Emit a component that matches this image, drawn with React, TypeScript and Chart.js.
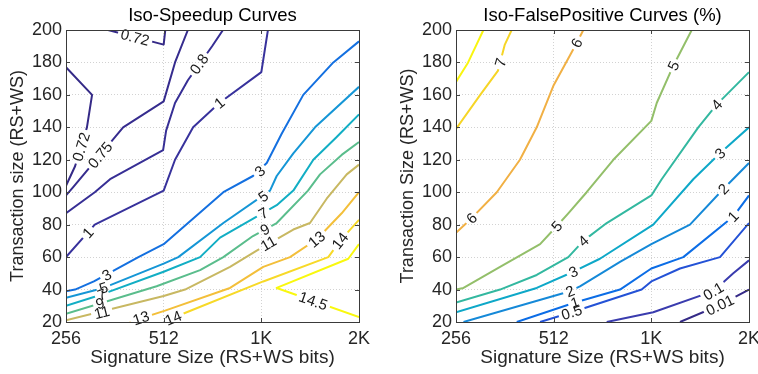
import React, { useEffect, useRef } from "react";
import { Chart, registerables } from "chart.js";

Chart.register(...registerables);

const FONT = "'Liberation Sans', Arial, Helvetica, sans-serif";

// ---- axes ----
const signatureTicks = [256, 512, 1024, 2048];
const signatureTickLabels = ["256", "512", "1K", "2K"];
const transactionTicks = [20, 40, 60, 80, 100, 120, 140, 160, 180, 200];

type XY = [number, number];
type ContourLabel = [string, number, number];

// ---- Iso-speedup contours: [signature bits, transaction size] ----
const speedup072Top: XY[] = [[345, 200], [512, 191], [518, 200]];
const speedup072Left: XY[] = [[256, 177], [308, 160], [297, 140], [273, 116], [256, 104]];
const speedup075: XY[] = [[608, 200], [555, 180], [512, 156], [384, 140], [269, 103], [256, 98]];
const speedup08: XY[] = [[780, 200], [722, 190], [608, 169], [555, 155], [521, 138], [510, 126], [350, 108], [314, 100], [256, 87]];
const speedup1: XY[] = [[1073, 200], [1024, 174], [760, 155], [631, 140], [555, 120], [512, 101], [314, 80], [256, 60]];
const speedup3: XY[] = [[2048, 193], [1707, 180], [1379, 160], [1183, 136], [1064, 118], [965, 110], [782, 100], [512, 68], [428, 60], [312, 45], [273, 40], [256, 39]];
const speedup5: XY[] = [[2048, 165], [1499, 140], [1285, 124], [1142, 110], [1089, 101], [782, 81], [568, 60], [512, 56], [334, 41], [256, 35]];
const speedup7: XY[] = [[2048, 148], [1748, 134], [1481, 120], [1285, 101], [1142, 92], [764, 72], [663, 60], [512, 51], [330, 37], [256, 30]];
const speedup9: XY[] = [[2048, 131], [1811, 123], [1553, 111], [1426, 101], [1142, 81], [965, 73], [782, 60], [663, 52], [487, 42], [256, 25]];
const speedup11: XY[] = [[2048, 117], [1877, 111], [1628, 96], [1446, 81], [1285, 77], [991, 64], [820, 54], [596, 40], [512, 36], [256, 21]];
const speedup13: XY[] = [[2048, 100], [1811, 87], [1517, 71], [1255, 60], [1038, 54], [820, 41], [517, 27], [403, 20]];
const speedup14: XY[] = [[2048, 83], [1790, 70], [1647, 60], [1038, 45], [603, 26], [512, 20]];
const speedup145: XY[] = [[2048, 68], [1898, 59], [1142, 41], [2048, 23]];

const speedupLabels: ContourLabel[] = [
  ["0.72", 418, 195.5], ["0.72", 285, 128], ["0.75", 326, 123], ["0.8", 658, 179],
  ["1", 760, 155], ["1", 299, 75], ["3", 1014, 113], ["3", 342, 49],
  ["5", 1038, 97.5], ["5", 334, 41], ["7", 1038, 87], ["7", 330, 37],
  ["9", 1051, 77], ["9", 326, 31.5], ["11", 1076, 68.5], ["11", 330, 26],
  ["13", 1517, 71], ["13", 436, 22.5], ["14", 1790, 70], ["14", 548, 22.5],
  ["14.5", 1481, 33],
];

// ---- Iso-false-positive contours (%) ----
const fp75: XY[] = [[311, 200], [279, 180], [256, 168]];
const fp7: XY[] = [[380, 200], [362, 191], [345, 175], [304, 160], [256, 139]];
const fp6: XY[] = [[632, 200], [603, 192], [512, 166], [454, 140], [403, 120], [342, 100], [286, 84], [256, 75]];
const fp5: XY[] = [[1364, 200], [1197, 178], [1064, 155], [1024, 144], [782, 120], [647, 100], [568, 87], [523, 79], [465, 68], [350, 54], [270, 41], [256, 40]];
const fp4: XY[] = [[2048, 174], [1628, 154], [1429, 140], [1102, 108], [1024, 98], [746, 81], [632, 70], [568, 60], [454, 49], [350, 40], [256, 32]];
const fp3: XY[] = [[2048, 140], [1667, 124], [1379, 108], [1038, 80], [711, 59], [589, 51], [454, 41], [256, 26]];
const fp2: XY[] = [[2048, 118], [1707, 102], [1347, 80], [1024, 68], [820, 57], [617, 42], [575, 39], [270, 20]];
const fp1: XY[] = [[2048, 98], [1832, 85], [1285, 60], [1024, 53], [820, 40], [596, 32], [394, 20]];
const fp05: XY[] = [[2048, 81], [1667, 60], [1255, 53], [1024, 45], [956, 40], [582, 26], [465, 20]];
const fp01: XY[] = [[2048, 58], [1832, 50], [1590, 39], [1038, 26], [746, 20]];
const fp001: XY[] = [[2048, 40], [1667, 30.5], [1255, 20]];

const fpLabels: ContourLabel[] = [
  ["7", 351, 180], ["6", 603, 192], ["6", 286, 84], ["5", 1197, 178], ["5", 523, 79],
  ["4", 1628, 154], ["4", 632, 70], ["3", 1667, 124], ["3", 589, 51],
  ["2", 1707, 102], ["2", 575, 39], ["1", 1832, 85], ["1", 596, 32],
  ["0.5", 582, 26], ["0.1", 1590, 39], ["0.01", 1667, 30.5],
];

type Curve = { level: string; color: string; values: XY[] };

const speedupCurves: Curve[] = [
  { level: "0.72", color: "#352a87", values: speedup072Top },
  { level: "0.72", color: "#352a87", values: speedup072Left },
  { level: "0.75", color: "#362c8e", values: speedup075 },
  { level: "0.8", color: "#372f95", values: speedup08 },
  { level: "1", color: "#38329c", values: speedup1 },
  { level: "3", color: "#1470e0", values: speedup3 },
  { level: "5", color: "#1596d6", values: speedup5 },
  { level: "7", color: "#12aec4", values: speedup7 },
  { level: "9", color: "#5abd8c", values: speedup9 },
  { level: "11", color: "#c8b862", values: speedup11 },
  { level: "13", color: "#f3bf3a", values: speedup13 },
  { level: "14", color: "#f7d928", values: speedup14 },
  { level: "14.5", color: "#f9f80e", values: speedup145 },
];

const fpCurves: Curve[] = [
  { level: "0.01", color: "#352a87", values: fp001 },
  { level: "0.1", color: "#3a3cae", values: fp01 },
  { level: "0.5", color: "#2452d6", values: fp05 },
  { level: "1", color: "#0c6de6", values: fp1 },
  { level: "2", color: "#1589d8", values: fp2 },
  { level: "3", color: "#0ea8c8", values: fp3 },
  { level: "4", color: "#33b8a0", values: fp4 },
  { level: "5", color: "#93bf6a", values: fp5 },
  { level: "6", color: "#f1b044", values: fp6 },
  { level: "7", color: "#f6d526", values: fp7 },
  { level: "7.5", color: "#f9f50f", values: fp75 },
];

type Placed = { text: string; cx: number; cy: number; angle: number; w: number };

function pointAt(pts: number[][], cum: number[], s: number): number[] {
  const total = cum[cum.length - 1];
  const t = Math.max(0, Math.min(total, s));
  for (let i = 1; i < pts.length; i++) {
    if (cum[i] >= t) {
      const seg = cum[i] - cum[i - 1] || 1;
      const f = (t - cum[i - 1]) / seg;
      return [pts[i - 1][0] + f * (pts[i][0] - pts[i - 1][0]), pts[i - 1][1] + f * (pts[i][1] - pts[i - 1][1])];
    }
  }
  return pts[pts.length - 1];
}

function placeLabels(chart: any, labels: ContourLabel[], size: number): Placed[] {
  const xs = chart.scales.x;
  const ys = chart.scales.y;
  const ctx = chart.ctx as CanvasRenderingContext2D;
  ctx.save();
  ctx.font = `${size}px ${FONT}`;
  const out: Placed[] = [];
  for (const [text, vx, vy] of labels) {
    const cx = xs.getPixelForValue(vx);
    const cy = ys.getPixelForValue(vy);
    let bestD = Infinity;
    let angle = 0;
    chart.data.datasets.forEach((ds: any) => {
      if (ds.label !== text) return;
      const pts = ds.data.map((p: any) => [xs.getPixelForValue(p.x), ys.getPixelForValue(p.y)]);
      const cum = [0];
      for (let i = 1; i < pts.length; i++) {
        cum.push(cum[i - 1] + Math.hypot(pts[i][0] - pts[i - 1][0], pts[i][1] - pts[i - 1][1]));
      }
      for (let i = 1; i < pts.length; i++) {
        const ax = pts[i - 1][0], ay = pts[i - 1][1];
        const bx = pts[i][0], by = pts[i][1];
        const dx = bx - ax, dy = by - ay;
        const len2 = dx * dx + dy * dy || 1;
        const f = Math.max(0, Math.min(1, ((cx - ax) * dx + (cy - ay) * dy) / len2));
        const px = ax + f * dx, py = ay + f * dy;
        const d = Math.hypot(cx - px, cy - py);
        if (d < bestD) {
          bestD = d;
          const s = cum[i - 1] + f * Math.sqrt(len2);
          const p0 = pointAt(pts, cum, s - 10);
          const p1 = pointAt(pts, cum, s + 10);
          angle = Math.atan2(p1[1] - p0[1], p1[0] - p0[0]);
        }
      }
    });
    if (angle > Math.PI / 2) angle -= Math.PI;
    if (angle < -Math.PI / 2) angle += Math.PI;
    out.push({ text, cx, cy, angle, w: ctx.measureText(text).width });
  }
  ctx.restore();
  return out;
}

function makePlugin(title: string, labels: ContourLabel[]) {
  const labelSize = 15;
  let placed: Placed[] = [];
  return {
    id: "contourDecor",
    beforeDatasetsDraw(chart: any) {
      placed = placeLabels(chart, labels, labelSize);
    },
    beforeDatasetDraw(chart: any, args: any) {
      const ctx = chart.ctx as CanvasRenderingContext2D;
      const level = chart.data.datasets[args.index].label;
      ctx.save();
      ctx.beginPath();
      ctx.rect(0, 0, chart.width, chart.height);
      for (const p of placed) {
        if (p.text !== level) continue;
        const ux = Math.cos(p.angle), uy = Math.sin(p.angle);
        const vx = -uy, vy = ux;
        const hw = p.w / 2 + 3, hh = 8;
        ctx.moveTo(p.cx - ux * hw - vx * hh, p.cy - uy * hw - vy * hh);
        ctx.lineTo(p.cx - ux * hw + vx * hh, p.cy - uy * hw + vy * hh);
        ctx.lineTo(p.cx + ux * hw + vx * hh, p.cy + uy * hw + vy * hh);
        ctx.lineTo(p.cx + ux * hw - vx * hh, p.cy + uy * hw - vy * hh);
        ctx.closePath();
      }
      ctx.clip("evenodd");
    },
    afterDatasetDraw(chart: any) {
      chart.ctx.restore();
    },
    afterDatasetsDraw(chart: any) {
      const ctx = chart.ctx as CanvasRenderingContext2D;
      ctx.save();
      ctx.font = `${labelSize}px ${FONT}`;
      ctx.fillStyle = "#1a1a1a";
      ctx.textAlign = "center";
      ctx.textBaseline = "middle";
      for (const p of placed) {
        ctx.save();
        ctx.translate(p.cx, p.cy);
        ctx.rotate(p.angle);
        ctx.fillText(p.text, 0, 1);
        ctx.restore();
      }
      ctx.restore();
    },
    afterDraw(chart: any) {
      const ctx = chart.ctx as CanvasRenderingContext2D;
      const a = chart.chartArea;
      const xs = chart.scales.x;
      const ys = chart.scales.y;
      ctx.save();
      // inward tick marks on all four sides
      ctx.strokeStyle = "#444";
      ctx.lineWidth = 1;
      ctx.beginPath();
      for (const v of signatureTicks) {
        const x = Math.round(xs.getPixelForValue(v)) + 0.5;
        ctx.moveTo(x, a.bottom);
        ctx.lineTo(x, a.bottom - 4);
        ctx.moveTo(x, a.top);
        ctx.lineTo(x, a.top + 4);
      }
      for (const v of transactionTicks) {
        const y = Math.round(ys.getPixelForValue(v)) + 0.5;
        ctx.moveTo(a.left, y);
        ctx.lineTo(a.left + 4, y);
        ctx.moveTo(a.right, y);
        ctx.lineTo(a.right - 4, y);
      }
      ctx.stroke();
      // axes box
      ctx.strokeStyle = "#3a3a3a";
      ctx.strokeRect(Math.round(a.left) + 0.5, Math.round(a.top) + 0.5, Math.round(a.right - a.left), Math.round(a.bottom - a.top));
      // title
      ctx.fillStyle = "#000";
      ctx.font = `18.5px ${FONT}`;
      ctx.textAlign = "center";
      ctx.textBaseline = "middle";
      ctx.fillText(title, (a.left + a.right) / 2, 16);
      ctx.restore();
    },
  };
}

type PanelProps = {
  left: number;
  title: string;
  yTitle: string;
  curves: Curve[];
  labels: ContourLabel[];
  yAxisWidth: number;
  rightPad: number;
  yTitlePad: number;
};

function ContourPanel({ left, title, yTitle, curves, labels, yAxisWidth, rightPad, yTitlePad }: PanelProps) {
  const ref = useRef<HTMLCanvasElement>(null);
  useEffect(() => {
    if (!ref.current) return;
    const chart = new Chart(ref.current, {
      type: "scatter",
      data: {
        datasets: curves.map((c) => ({
          label: c.level,
          data: c.values.map(([x, y]) => ({ x, y })),
          showLine: true,
          borderColor: c.color,
          backgroundColor: c.color,
          borderWidth: 2,
          pointRadius: 0,
          pointHoverRadius: 0,
          tension: 0,
          fill: false,
          borderJoinStyle: "round",
          borderCapStyle: "butt",
        })),
      },
      options: {
        responsive: false,
        animation: false,
        devicePixelRatio: 1,
        events: [],
        layout: { padding: { left: 0, top: 30, right: rightPad, bottom: 0 } },
        plugins: { legend: { display: false }, tooltip: { enabled: false }, title: { display: false } },
        scales: {
          x: {
            type: "logarithmic",
            min: 256,
            max: 2048,
            afterBuildTicks: (s: any) => {
              s.ticks = signatureTicks.map((v) => ({ value: v }));
            },
            afterFit: (s: any) => {
              s.height = 52;
              s.paddingLeft = 0;
              s.paddingRight = 0;
            },
            ticks: {
              autoSkip: false,
              maxRotation: 0,
              padding: 6,
              color: "#262626",
              font: { family: FONT, size: 18 },
              callback: (v: any) => signatureTickLabels[signatureTicks.indexOf(Number(v))] ?? "",
            },
            grid: { color: "#d2d2d2", lineWidth: 1, drawTicks: false },
            border: { display: false, dash: [1, 2] },
            title: {
              display: true,
              text: "Signature Size (RS+WS bits)",
              color: "#262626",
              font: { family: FONT, size: 19 },
              padding: { top: 0, bottom: 5 },
            },
          },
          y: {
            type: "linear",
            min: 20,
            max: 200,
            afterBuildTicks: (s: any) => {
              s.ticks = transactionTicks.map((v) => ({ value: v }));
            },
            afterFit: (s: any) => {
              s.width = yAxisWidth;
            },
            ticks: {
              padding: 4,
              color: "#262626",
              font: { family: FONT, size: 18 },
            },
            grid: { color: "#d2d2d2", lineWidth: 1, drawTicks: false },
            border: { display: false, dash: [1, 2] },
            title: {
              display: true,
              text: yTitle,
              color: "#262626",
              font: { family: FONT, size: 18 },
              padding: { top: yTitlePad, bottom: 0 },
            },
          },
        },
      } as any,
      plugins: [makePlugin(title, labels) as any],
    });
    return () => chart.destroy();
  }, []);
  return (
    <canvas
      ref={ref}
      width={379}
      height={374}
      style={{ position: "absolute", left, top: 0, width: 379, height: 374 }}
    />
  );
}

export default function App() {
  return (
    <div style={{ position: "absolute", left: 0, top: 0, width: 758, height: 374, background: "#fff", overflow: "hidden" }}>
      <ContourPanel
        left={0}
        title="Iso-Speedup Curves"
        yTitle="Transaction size (RS+WS)"
        curves={speedupCurves}
        labels={speedupLabels}
        yAxisWidth={66}
        rightPad={20}
        yTitlePad={7}
      />
      <ContourPanel
        left={379}
        title="Iso-FalsePositive Curves (%)"
        yTitle="Transaction Size (RS+WS)"
        curves={fpCurves}
        labels={fpLabels}
        yAxisWidth={77}
        rightPad={9}
        yTitlePad={18}
      />
    </div>
  );
}
